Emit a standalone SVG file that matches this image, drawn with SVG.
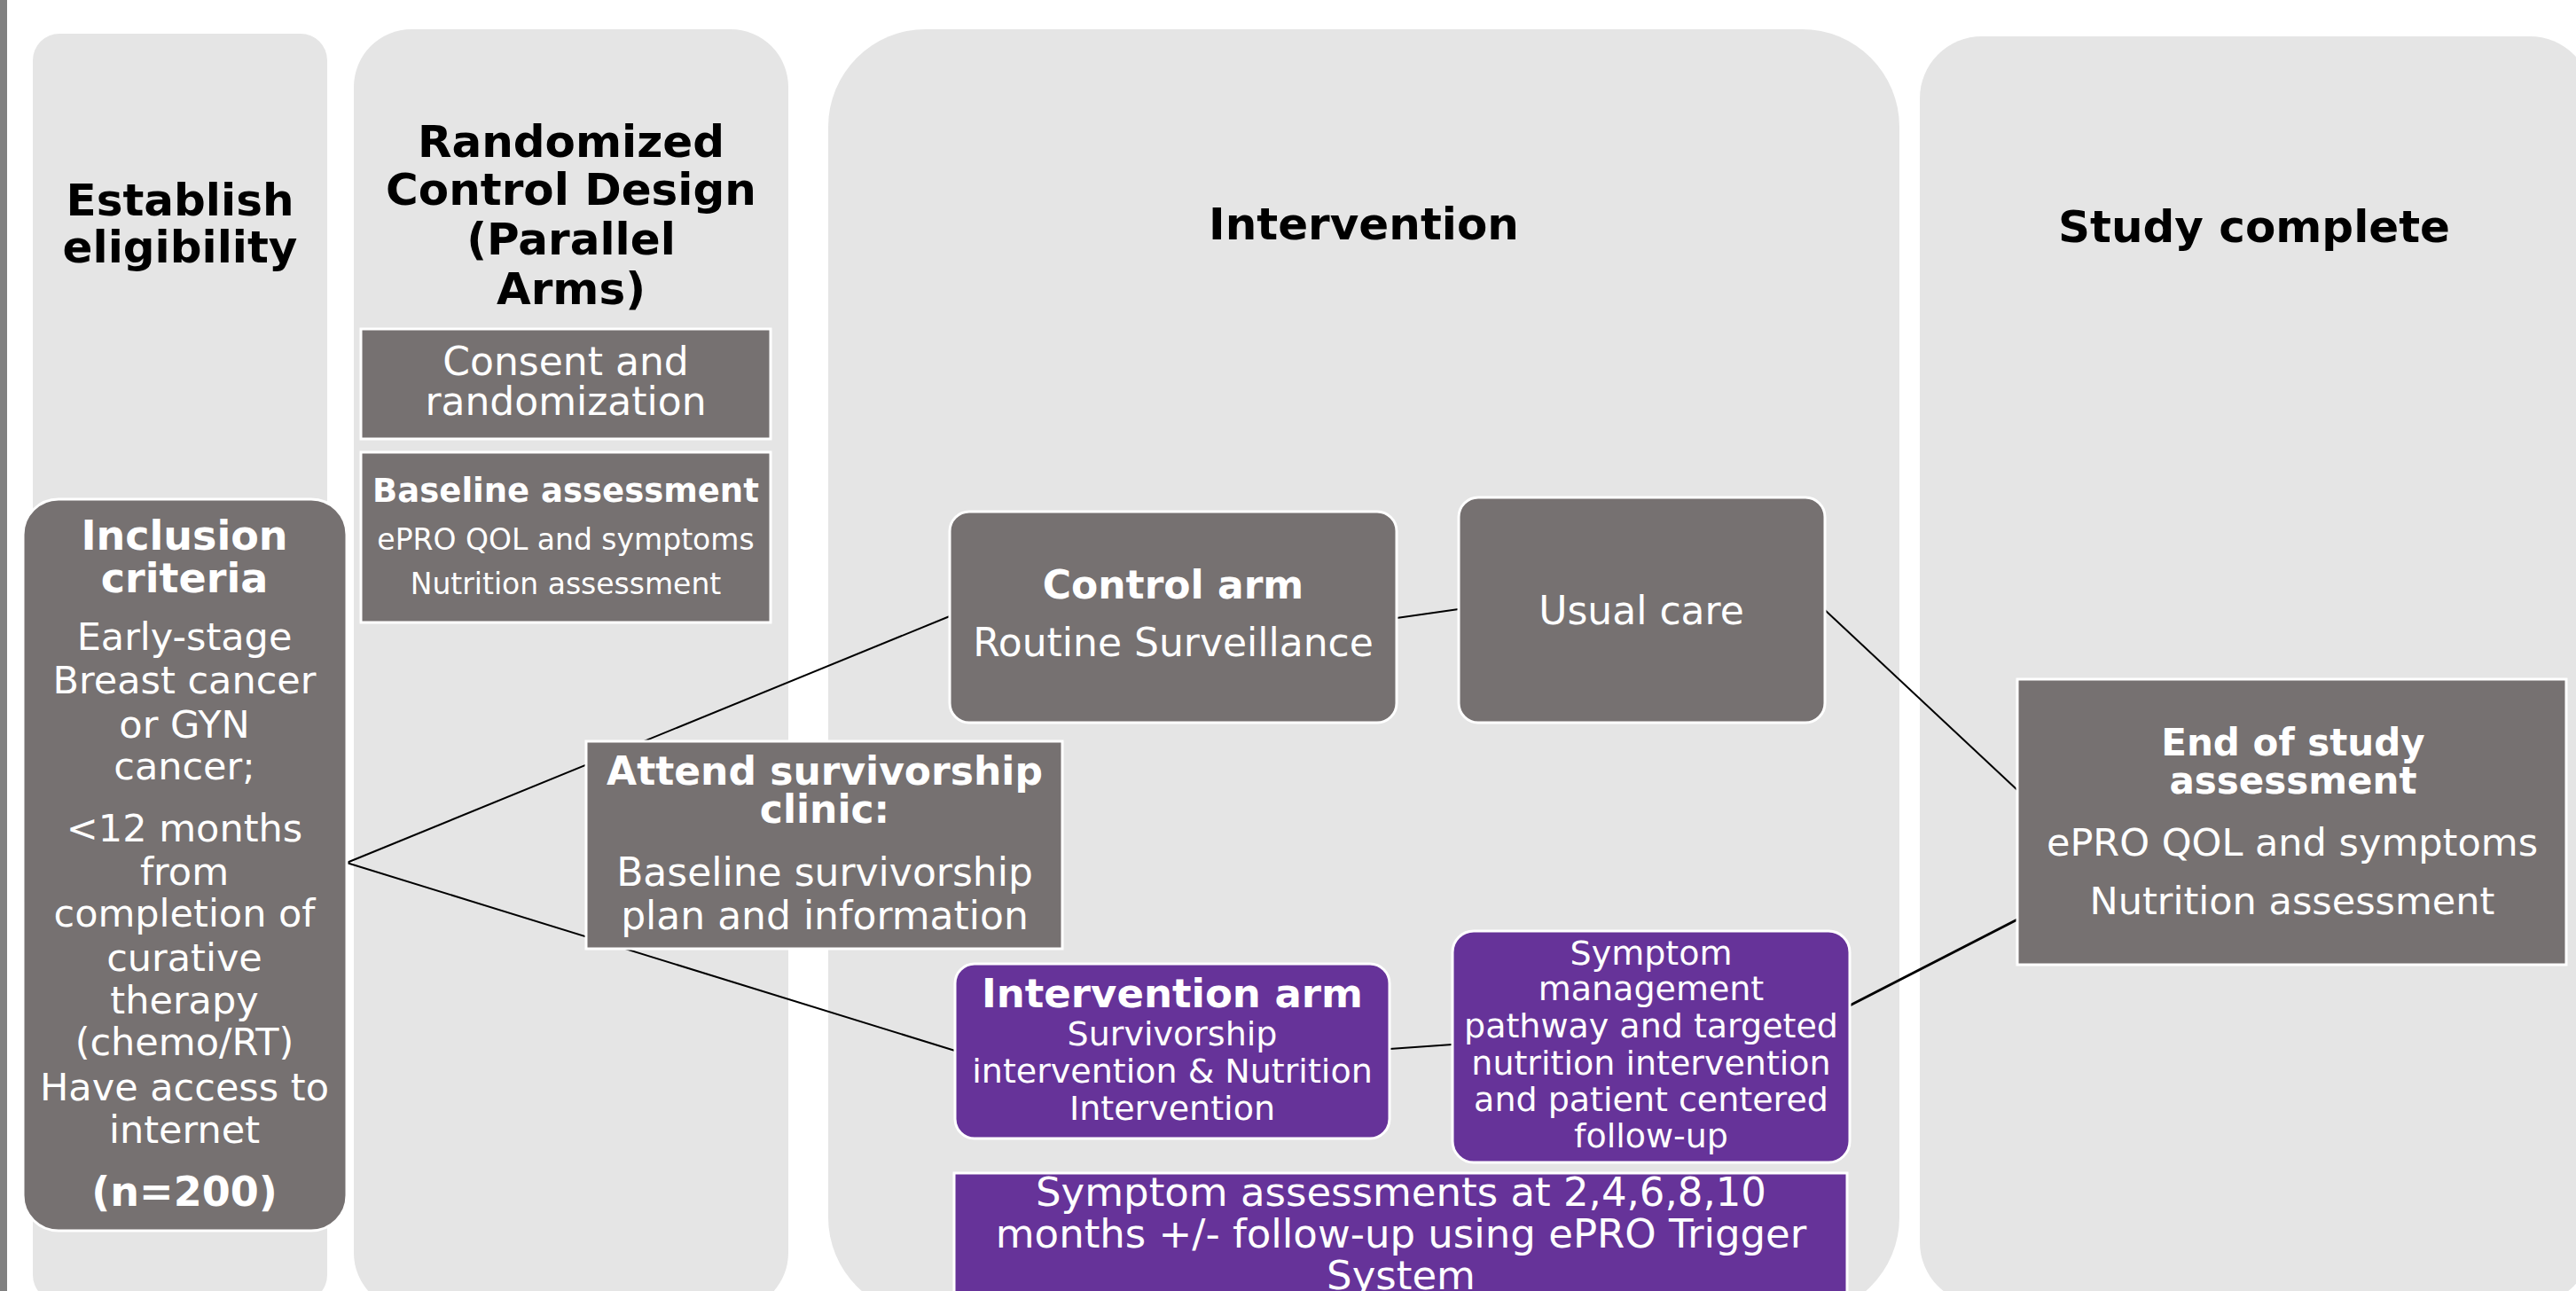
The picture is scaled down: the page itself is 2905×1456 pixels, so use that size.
<svg xmlns="http://www.w3.org/2000/svg" width="2905" height="1456" viewBox="0 0 2905 1456">
<style>
.col{fill:#e5e5e5}
.hdr{font-family:"DejaVu Sans",Verdana,sans-serif;font-weight:bold;font-size:50px;fill:#000;text-anchor:middle}
.gray{fill:#767171;stroke:#fff;stroke-width:3}
.purp{fill:#663399;stroke:#fff;stroke-width:3}
.t{font-family:"DejaVu Sans",Verdana,sans-serif;fill:#fff;text-anchor:middle}
.b{font-weight:bold}
.conn line{stroke:#000;stroke-width:2}
</style>
<rect x="0" y="0" width="2905" height="1456" fill="#fff"/>
<rect x="0" y="0" width="8" height="1456" fill="#808080"/>
<g id="columns">
<g id="col-eligibility"><rect class="col" x="37" y="38" width="332" height="1430" rx="30" ry="30"/>
<text class="hdr" x="203"><tspan x="203" y="243">Establish</tspan><tspan x="203" y="296">eligibility</tspan></text></g>
<g id="col-randomized"><rect class="col" x="399" y="33" width="490" height="1445" rx="65" ry="65"/>
<text class="hdr"><tspan x="644" y="177">Randomized</tspan><tspan x="644" y="231">Control Design</tspan><tspan x="644" y="287">(Parallel</tspan><tspan x="644" y="343">Arms)</tspan></text></g>
<g id="col-intervention"><rect class="col" x="934" y="33" width="1208" height="1450" rx="110" ry="110"/>
<text class="hdr" x="1538" y="270">Intervention</text></g>
<g id="col-complete"><rect class="col" x="2165" y="41" width="758" height="1430" rx="70" ry="70"/>
<text class="hdr" x="2542" y="273">Study complete</text></g>
</g>
<g id="connectors" class="conn">
<line x1="391" y1="973" x2="1071" y2="695"/>
<line x1="391" y1="973" x2="1077" y2="1185"/>
<line x1="1575" y1="697" x2="1645" y2="687"/>
<line x1="2058" y1="688" x2="2275" y2="891"/>
<line x1="1567" y1="1183" x2="1638" y2="1178"/>
<line x1="2086" y1="1134" x2="2275" y2="1037" style="stroke-width:3"/>
</g>
<g id="consent"><rect class="gray" x="407" y="371" width="462" height="124"/>
<text class="t" font-size="44"><tspan x="638" y="423">Consent and</tspan><tspan x="638" y="468">randomization</tspan></text></g>
<g id="baseline"><rect class="gray" x="407" y="510" width="462" height="192"/>
<text class="t b" font-size="37" x="638" y="566">Baseline assessment</text>
<text class="t" font-size="33"><tspan x="638" y="620">ePRO QOL and symptoms</tspan><tspan x="638" y="670">Nutrition assessment</tspan></text></g>
<g id="inclusion"><rect class="gray" x="26" y="563" width="365" height="825" rx="40" ry="40"/>
<text class="t b" font-size="46"><tspan x="208" y="620">Inclusion</tspan><tspan x="208" y="668">criteria</tspan></text>
<text class="t" font-size="43"><tspan x="208" y="733">Early-stage</tspan><tspan x="208" y="782">Breast cancer</tspan><tspan x="208" y="832">or GYN</tspan><tspan x="208" y="879">cancer;</tspan><tspan x="208" y="949">&lt;12 months</tspan><tspan x="208" y="998">from</tspan><tspan x="208" y="1045">completion of</tspan><tspan x="208" y="1095">curative</tspan><tspan x="208" y="1143">therapy</tspan><tspan x="208" y="1190">(chemo/RT)</tspan><tspan x="208" y="1241">Have access to</tspan><tspan x="208" y="1289">internet</tspan></text>
<text class="t b" font-size="46" x="208" y="1360">(n=200)</text></g>
<g id="attend"><rect class="gray" x="661" y="836" width="537" height="234"/>
<text class="t b" font-size="44"><tspan x="930" y="885">Attend survivorship</tspan><tspan x="930" y="928">clinic:</tspan></text>
<text class="t" font-size="44"><tspan x="930" y="999">Baseline survivorship</tspan><tspan x="930" y="1048">plan and information</tspan></text></g>
<g id="control"><rect class="gray" x="1071" y="577" width="504" height="238" rx="22" ry="22"/>
<text class="t b" font-size="44" x="1323" y="675">Control arm</text>
<text class="t" font-size="44" x="1323" y="740">Routine Surveillance</text></g>
<g id="usual"><rect class="gray" x="1645" y="561" width="413" height="254" rx="22" ry="22"/>
<text class="t" font-size="44" x="1851" y="704">Usual care</text></g>
<g id="intervention-arm"><rect class="purp" x="1077" y="1087" width="490" height="197" rx="22" ry="22"/>
<text class="t b" font-size="45" x="1322" y="1136">Intervention arm</text>
<text class="t" font-size="38"><tspan x="1322" y="1179">Survivorship</tspan><tspan x="1322" y="1221">intervention &amp; Nutrition</tspan><tspan x="1322" y="1263">Intervention</tspan></text></g>
<g id="symptom-mgmt"><rect class="purp" x="1638" y="1050" width="448" height="261" rx="24" ry="24"/>
<text class="t" font-size="38"><tspan x="1862" y="1088">Symptom</tspan><tspan x="1862" y="1128">management</tspan><tspan x="1862" y="1170">pathway and targeted</tspan><tspan x="1862" y="1212">nutrition intervention</tspan><tspan x="1862" y="1253">and patient centered</tspan><tspan x="1862" y="1294">follow-up</tspan></text></g>
<g id="symptom-assess"><rect class="purp" x="1076" y="1323" width="1007" height="160"/>
<text class="t" font-size="45"><tspan x="1580" y="1360">Symptom assessments at 2,4,6,8,10</tspan><tspan x="1580" y="1407">months +/- follow-up using ePRO Trigger</tspan><tspan x="1580" y="1454">System</tspan></text></g>
<g id="end-of-study"><rect class="gray" x="2275" y="766" width="619" height="322"/>
<text class="t b" font-size="42"><tspan x="2586" y="852">End of study</tspan><tspan x="2586" y="895">assessment</tspan></text>
<text class="t" font-size="43"><tspan x="2585" y="965">ePRO QOL and symptoms</tspan><tspan x="2585" y="1031">Nutrition assessment</tspan></text></g>
</svg>
